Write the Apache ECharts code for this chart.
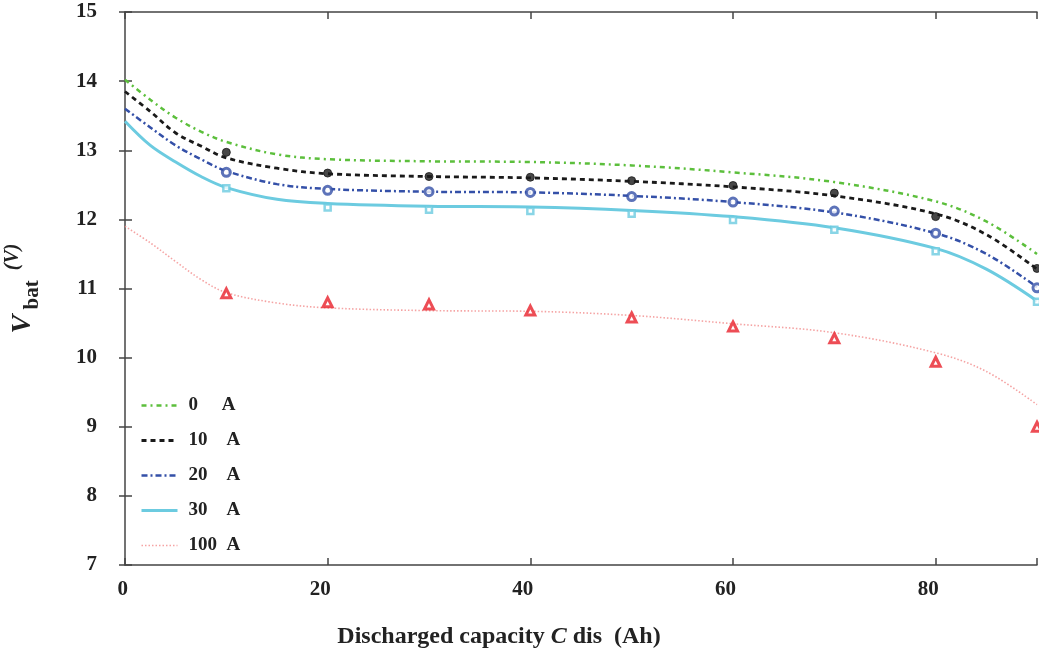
<!DOCTYPE html>
<html>
<head>
<meta charset="utf-8">
<script src="https://cdn.jsdelivr.net/npm/echarts@6/dist/echarts.min.js"></script>
<style>html,body{margin:0;padding:0;background:#fff}#c{width:1039px;height:657px}</style>
</head>
<body>
<div id="c"></div>
<script>
// Fitted-curve sample positions (Ah)
var curveX = [0, 2.5, 5, 7.5, 10, 15, 20, 30, 40, 50, 60, 70, 80, 85, 90];
var curve0A   = [14.02, 13.73, 13.47, 13.27, 13.12, 12.94, 12.87, 12.84, 12.83, 12.78, 12.68, 12.54, 12.26, 11.97, 11.50];
var curve10A  = [13.85, 13.56, 13.25, 13.06, 12.89, 12.74, 12.66, 12.62, 12.60, 12.55, 12.47, 12.34, 12.08, 11.78, 11.28];
var curve20A  = [13.60, 13.33, 13.07, 12.87, 12.70, 12.51, 12.44, 12.40, 12.39, 12.34, 12.25, 12.10, 11.80, 11.50, 11.02];
var curve30A  = [13.42, 13.07, 12.83, 12.62, 12.46, 12.29, 12.23, 12.19, 12.18, 12.13, 12.04, 11.88, 11.58, 11.28, 10.82];
var curve100A = [11.90, 11.66, 11.39, 11.13, 10.94, 10.79, 10.72, 10.68, 10.67, 10.61, 10.49, 10.36, 10.07, 9.80, 9.32];

// Measured points
var pointX = [10, 20, 30, 40, 50, 60, 70, 80, 90];
var meas10A  = [12.97, 12.67, 12.62, 12.61, 12.56, 12.49, 12.38, 12.04, 11.29];
var meas20A  = [12.68, 12.42, 12.40, 12.39, 12.33, 12.25, 12.12, 11.80, 11.01];
var meas30A  = [12.45, 12.17, 12.14, 12.12, 12.08, 11.99, 11.85, 11.54, 10.81];
var meas100A = [10.93, 10.80, 10.77, 10.68, 10.58, 10.45, 10.28, 9.94, 9.00];

var seriesNames = ['0     A', '10    A', '20    A', '30    A', '100  A'];

function pairs(xs, ys) { return xs.map(function (x, i) { return [x, ys[i]]; }); }

var serif = 'Liberation Serif';
var chart = echarts.init(document.getElementById('c'));

function curve(name, ys, color, width, type, opacity) {
  return {
    name: name, type: 'line', data: pairs(curveX, ys), smooth: 0.35,
    symbol: 'none', z: 2,
    lineStyle: { color: color, width: width, type: type, opacity: opacity || 1 },
    itemStyle: { color: color }
  };
}
function marks(ys, symbol, size, color, fill, bw) {
  return {
    type: 'scatter', data: pairs(pointX, ys), symbol: symbol, symbolSize: size, z: 5,
    itemStyle: { color: fill, borderColor: color, borderWidth: bw }
  };
}

chart.setOption({
  animation: false,
  backgroundColor: '#fff',
  grid: { left: 125, top: 12, width: 912, bottom: 92, containLabel: false, outerBoundsMode: 'none' },
  legend: {
    data: seriesNames,
    orient: 'vertical', left: 135, top: 391,
    itemWidth: 36, itemHeight: 14, itemGap: 16,
    itemStyle: { opacity: 0 },
    lineStyle: { width: 'inherit' },
    textStyle: { fontFamily: serif, fontWeight: 'bold', fontSize: 19, color: '#222', padding: [0, 0, 0, 6] }
  },
  xAxis: [{
    type: 'value', min: 0, max: 90, interval: 20,
    axisLine: { show: true, lineStyle: { color: '#444', width: 1.5 } },
    axisTick: { inside: true, length: 7, lineStyle: { color: '#444', width: 1.5 } },
    splitLine: { show: false },
    axisLabel: { margin: 14, align: 'right', padding: [0, -3, 0, 0], fontFamily: serif, fontWeight: 'bold', fontSize: 21, color: '#222',
      formatter: function (v) { return v === 90 ? '' : v; } },
    name: '{b|Discharged capacity }{i|C}{b| dis  (Ah)}',
    nameLocation: 'middle', nameGap: 60,
    nameTextStyle: { padding: [0, 164, 0, 0], rich: {
      b: { fontFamily: serif, fontWeight: 'bold', fontSize: 24, color: '#222' },
      i: { fontFamily: serif, fontWeight: 'bold', fontStyle: 'italic', fontSize: 24, color: '#222' }
    } }
  }, {
    type: 'value', min: 0, max: 90, interval: 20, position: 'top',
    axisLine: { show: true, onZero: false, lineStyle: { color: '#444', width: 1.5 } },
    axisTick: { inside: true, length: 7, lineStyle: { color: '#444', width: 1.5 } },
    axisLabel: { show: false }, splitLine: { show: false }
  }],
  yAxis: [{
    type: 'value', min: 7, max: 15, interval: 1,
    axisLine: { show: true, lineStyle: { color: '#444', width: 1.5 } },
    axisTick: { inside: true, length: 7, lineStyle: { color: '#444', width: 1.5 } },
    splitLine: { show: false },
    axisLabel: { margin: 28, fontFamily: serif, fontWeight: 'bold', fontSize: 21, color: '#222' },
    name: '{v|V}{s| bat}{p|  (V)}',
    nameLocation: 'middle', nameGap: 82, nameRotate: 90,
    nameTextStyle: { lineHeight: 40, rich: {
      v: { fontFamily: serif, fontWeight: 'bold', fontStyle: 'italic', fontSize: 28, color: '#222', verticalAlign: 'middle', lineHeight: 40 },
      s: { fontFamily: serif, fontWeight: 'bold', fontSize: 21, color: '#222', verticalAlign: 'bottom', lineHeight: 40 },
      p: { fontFamily: serif, fontWeight: 'bold', fontStyle: 'italic', fontSize: 20, color: '#222', verticalAlign: 'top', lineHeight: 40 }
    } }
  }, {
    type: 'value', min: 7, max: 15, interval: 1, position: 'right',
    axisLine: { show: false },
    axisTick: { show: true, inside: true, length: 6, lineStyle: { color: '#444', width: 1.5 } },
    axisLabel: { show: false }, splitLine: { show: false }
  }],
  series: [
    curve(seriesNames[0], curve0A, '#5cbf3c', 2.5, [5, 4, 2, 4]),
    curve(seriesNames[1], curve10A, '#1a1a1a', 2.8, [5, 4]),
    curve(seriesNames[2], curve20A, '#3450a8', 2.5, [6, 3, 2, 3]),
    curve(seriesNames[3], curve30A, '#6ccbe0', 3, 'solid'),
    curve(seriesNames[4], curve100A, '#f28c8c', 1.6, [1.5, 2], 0.8),
    marks(meas10A, 'circle', 8, '#1a1a1a', '#1a1a1a', 1),
    marks(meas20A, 'circle', 8, '#3450a8', '#fff', 3),
    marks(meas30A, 'rect', 6, '#6ccbe0', '#fff', 2.5),
    marks(meas100A, 'triangle', 9, '#e8202a', '#fff', 3)
  ]
});
</script>
</body>
</html>
